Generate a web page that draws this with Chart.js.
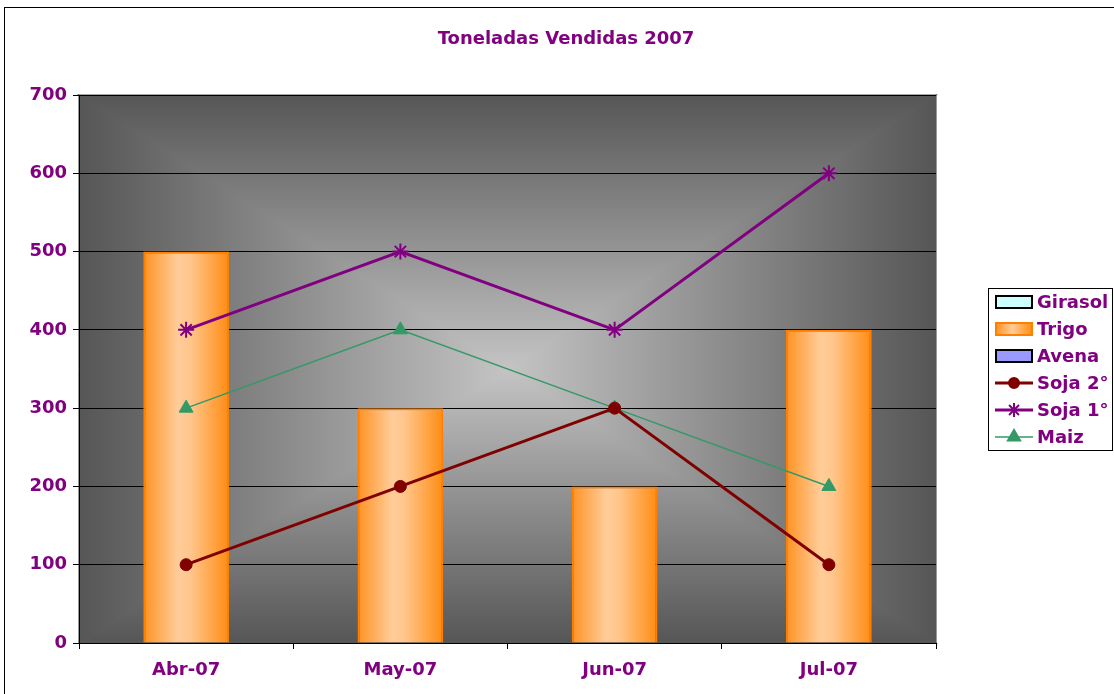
<!DOCTYPE html>
<html>
<head>
<meta charset="utf-8">
<script src="https://cdn.jsdelivr.net/npm/chart.js@4"></script>
<style>
  html, body { margin: 0; padding: 0; background: #fff; }
  #wrap { position: relative; width: 1114px; height: 694px; }
</style>
</head>
<body>
<div id="wrap"><canvas id="chart" width="1114" height="694"></canvas></div>
<script>
const months = ['Abr-07', 'May-07', 'Jun-07', 'Jul-07'];
const girasol = [null, null, null, null];
const trigo = [500, 300, 200, 400];
const avena = [null, null, null, null];
const soja2 = [100, 200, 300, 100];
const soja1 = [400, 500, 400, 600];
const maiz = [300, 400, 300, 200];

const PURPLE = '#800080';
const BAR_PCT = 0.4;
const TITLE = 'Toneladas Vendidas 2007';

function barGradient(ctx) {
  const chart = ctx.chart;
  const x = chart.scales.x;
  if (!x || ctx.dataIndex == null) return '#ffa040';
  const cx = x.getPixelForValue(ctx.dataIndex);
  const w = (x.width / months.length) * BAR_PCT;
  if (!isFinite(cx) || !isFinite(w) || w <= 0) return '#ffa040';
  const g = chart.ctx.createLinearGradient(cx - w / 2, 0, cx + w / 2, 0);
  g.addColorStop(0, '#ff9222');
  g.addColorStop(0.4, '#ffcc99');
  g.addColorStop(0.55, '#ffc68c');
  g.addColorStop(1, '#ff8c12');
  return g;
}

// rectangular "from centre" gradient behind the plot, plus frame and title
const plotBg = {
  id: 'plotBg',
  beforeDraw(chart) {
    const c = chart.ctx, a = chart.chartArea;
    const mx = (a.left + a.right) / 2, my = (a.top + a.bottom) / 2;
    const sides = [
      [[a.left, a.top], [a.right, a.top], mx, a.top],
      [[a.right, a.top], [a.right, a.bottom], a.right, my],
      [[a.right, a.bottom], [a.left, a.bottom], mx, a.bottom],
      [[a.left, a.bottom], [a.left, a.top], a.left, my]
    ];
    c.save();
    sides.forEach(s => {
      const g = c.createLinearGradient(mx, my, s[2], s[3]);
      g.addColorStop(0, '#c4c4c4');
      g.addColorStop(1, '#565656');
      c.beginPath();
      c.moveTo(mx, my);
      c.lineTo(s[0][0], s[0][1]);
      c.lineTo(s[1][0], s[1][1]);
      c.closePath();
      c.fillStyle = g;
      c.fill();
      c.strokeStyle = g;
      c.lineWidth = 1.2;
      c.stroke();
    });
    c.strokeStyle = '#000';
    c.lineWidth = 1;
    c.strokeRect(4.5, 7.5, 2000, 2000);
    c.fillStyle = PURPLE;
    c.font = 'bold 18px "DejaVu Sans"';
    c.textAlign = 'center';
    c.textBaseline = 'middle';
    c.fillText(TITLE, 566, 39);
    c.restore();
  }
};

// boxed legend at the right
const boxLegend = {
  id: 'boxLegend',
  afterDraw(chart) {
    const c = chart.ctx;
    const items = [
      { text: 'Girasol', type: 'box', fill: '#ccffff', stroke: '#000' },
      { text: 'Trigo', type: 'box', fill: 'grad', stroke: '#ff8000' },
      { text: 'Avena', type: 'box', fill: '#9999ff', stroke: '#000' },
      { text: 'Soja 2°', type: 'line', color: '#800000', width: 3, style: 'circle', r: 5 },
      { text: 'Soja 1°', type: 'line', color: PURPLE, width: 3, style: 'star', r: 7 },
      { text: 'Maiz', type: 'line', color: '#339966', width: 1.5, style: 'triangle', r: 7 }
    ];
    c.save();
    c.fillStyle = '#fff';
    c.fillRect(988, 288, 125, 162);
    c.strokeStyle = '#000';
    c.lineWidth = 1;
    c.strokeRect(988.5, 288.5, 124, 162);
    items.forEach((it, i) => {
      const y = 302 + i * 27;
      if (it.type === 'box') {
        let f = it.fill;
        if (f === 'grad') {
          f = c.createLinearGradient(996, 0, 1032, 0);
          f.addColorStop(0, '#ff9222');
          f.addColorStop(0.45, '#ffcc99');
          f.addColorStop(1, '#ff8c12');
        }
        c.fillStyle = f;
        c.fillRect(996, y - 6, 36, 12);
        c.strokeStyle = it.stroke;
        c.lineWidth = 2;
        c.strokeRect(996, y - 6, 36, 12);
      } else {
        c.strokeStyle = it.color;
        c.lineWidth = it.width;
        c.beginPath();
        c.moveTo(995, y);
        c.lineTo(1033, y);
        c.stroke();
        c.fillStyle = it.color;
        c.strokeStyle = it.color;
        c.lineWidth = 2;
        Chart.helpers.drawPoint(c, {
          pointStyle: it.style, radius: it.r, borderWidth: 2, rotation: 0
        }, 1014, y);
      }
      c.fillStyle = PURPLE;
      c.font = 'bold 18px "DejaVu Sans"';
      c.textBaseline = 'middle';
      c.fillText(it.text, 1037, y + 1);
    });
    c.restore();
  }
};

const tickFont = { family: 'DejaVu Sans', size: 18, weight: 'bold' };

new Chart(document.getElementById('chart'), {
  data: {
    labels: months,
    datasets: [
      { type: 'line', label: 'Soja 2°', data: soja2, order: 1,
        borderColor: '#800000', backgroundColor: '#800000', borderWidth: 3,
        pointStyle: 'circle', pointRadius: 6, pointBorderWidth: 1 },
      { type: 'line', label: 'Soja 1°', data: soja1, order: 1,
        borderColor: PURPLE, backgroundColor: PURPLE, borderWidth: 3,
        pointStyle: 'star', pointRadius: 8, pointBorderWidth: 2 },
      { type: 'line', label: 'Maiz', data: maiz, order: 1,
        borderColor: '#339966', backgroundColor: '#339966', borderWidth: 1.5,
        pointStyle: 'triangle', pointRadius: 8, pointBorderWidth: 1 },
      { type: 'bar', label: 'Girasol', data: girasol, order: 10, grouped: false,
        backgroundColor: '#ccffff', borderColor: '#000' },
      { type: 'bar', label: 'Trigo', data: trigo, order: 10, grouped: false,
        backgroundColor: barGradient, borderColor: '#ff8000', borderWidth: 2,
        barPercentage: BAR_PCT, categoryPercentage: 1 },
      { type: 'bar', label: 'Avena', data: avena, order: 10, grouped: false,
        backgroundColor: '#9999ff', borderColor: '#000' }
    ]
  },
  options: {
    responsive: false,
    animation: false,
    layout: { padding: { left: 0, right: 178, top: 95, bottom: 0 } },
    plugins: {
      legend: { display: false },
      tooltip: { enabled: false },
      title: { display: false }
    },
    scales: {
      x: {
        offset: true,
        afterFit(s) { s.height = 51; },
        grid: { offset: true, drawOnChartArea: false, drawTicks: true, tickLength: 6, color: '#000' },
        border: { color: '#000', width: 1 },
        ticks: { color: PURPLE, font: tickFont, padding: 11 }
      },
      y: {
        min: 0, max: 700,
        afterFit(s) { s.width = 79; },
        grid: { color: '#000', lineWidth: 1, tickLength: 6 },
        border: { color: '#000', width: 1 },
        ticks: { stepSize: 100, color: PURPLE, font: tickFont, padding: 6 }
      }
    }
  },
  plugins: [plotBg, boxLegend]
});
</script>
</body>
</html>
